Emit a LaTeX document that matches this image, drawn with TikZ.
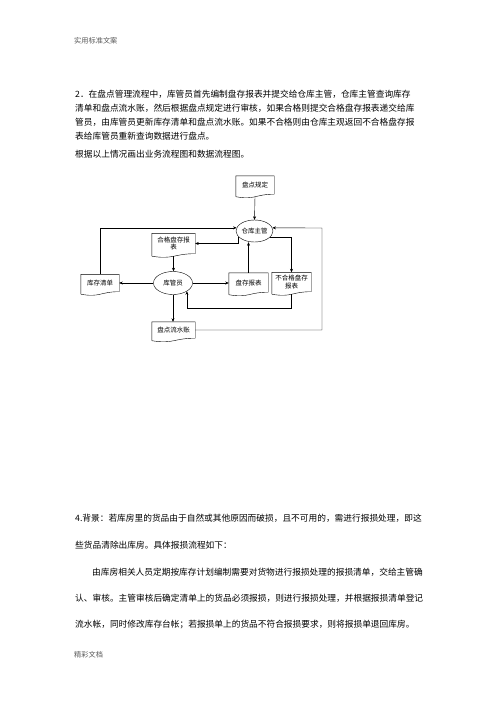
\documentclass[tikz,border=0pt]{standalone}
\usepackage{fontspec}
\setmainfont{Noto Sans CJK SC}
\usepackage{tikz}
\usetikzlibrary{arrows.meta,shapes,calc}

% outline of a document box (wavy bottom) round node #1
\newcommand{\docline}[1]{%
\draw ([yshift=-2.5pt]#1.south west)--(#1.north west)--(#1.north east)--(#1.south east)
 .. controls (#1.south) and ([yshift=-6pt]#1.south) .. ([yshift=-2.5pt]#1.south west);}

\tikzset{
bodytext/.style={anchor=west,inner sep=0pt,font=\fontsize{8.7}{10}\selectfont},
pagemark/.style={anchor=west,inner sep=0pt,text=black!65,font=\fontsize{7.2}{8}\selectfont},
docbox/.style={minimum width=#1,minimum height=18pt,inner sep=1pt,align=center,
  font=\fontsize{6.5}{7.5}\selectfont},
roleell/.style={ellipse,draw,minimum width=#1,minimum height=22pt,inner sep=0pt,
  font=\fontsize{6.5}{7.5}\selectfont},
flow/.style={-{Stealth[length=3.5pt,width=3pt]},line width=0.4pt}
}

\begin{document}
\begin{tikzpicture}[x=1pt,y=-1pt,line width=0.4pt]
\useasboundingbox (0,0) rectangle (496,702);
\node[pagemark](head) at (74,41) {实用标准文案};
\node[bodytext](t1) at (75,94) {2．在盘点管理流程中，库管员首先编制盘存报表并提交给仓库主管，仓库主管查询库存};
\node[bodytext](t2) at (75,108) {清单和盘点流水账，然后根据盘点规定进行审核，如果合格则提交合格盘存报表递交给库};
\node[bodytext](t3) at (75,122) {管员，由库管员更新库存清单和盘点流水账。如果不合格则由仓库主观返回不合格盘存报};
\node[bodytext](t4) at (75,136) {表给库管员重新查询数据进行盘点。};
\node[bodytext](t5) at (75,154) {根据以上情况画出业务流程图和数据流程图。};

% flow chart
\node[docbox=38pt](gd) at (255,185) {盘点规定};
\node[roleell=37pt](zg) at (254.5,231) {仓库主管};
\node[docbox=43pt,minimum height=20pt](hg) at (173.5,243.5) {合格盘存报\\表};
\node[docbox=38pt,minimum height=17pt](kc) at (100,283) {库存清单};
\node[roleell=39pt,minimum height=23pt](kg) at (173,283) {库管员};
\node[docbox=39pt,minimum height=19pt](pc) at (248.5,282.5) {盘存报表};
\node[docbox=39pt,minimum height=19pt](bh) at (291.5,282) {不合格盘存\\报表};
\node[docbox=43pt,minimum height=16pt](ls) at (173.5,330) {盘点流水账};
\coordinate (rt) at (322,228);
\docline{gd}\docline{hg}\docline{kc}\docline{pc}\docline{bh}\docline{ls}

\draw[flow]([yshift=-2.5pt]gd.south)--(zg.north);
\draw[flow](kc.north)|-(zg.170);
\draw[flow](zg.200)|-(hg.east);
\draw[flow]([yshift=-2.5pt]hg.south)--(hg.south|-kg.north);
\draw[flow](kg.west)--(kg.west-|kc.east);
\draw[flow,line width=0.9pt](kg.east)--(kg.east-|pc.west);
\draw[flow](pc.north)--(pc.north|-zg.south);
\draw[flow](zg.-22)-|(bh.north);
\draw[flow]([yshift=-2.5pt]bh.south)--++(0,14)-|(kg.south east);
\draw[flow](kg.south)--(kg.south|-ls.north);
\draw[flow](ls.east)-|(rt)--(zg.10);

\node[bodytext](s1) at (75,518) {4.背景：若库房里的货品由于自然或其他原因而破损，且不可用的，需进行报损处理，即这};
\node[bodytext](s2) at (75,545) {些货品清除出库房。具体报损流程如下：};
\node[bodytext](s3) at (92,572) {由库房相关人员定期按库存计划编制需要对货物进行报损处理的报损清单，交给主管确};
\node[bodytext](s4) at (75,598) {认、审核。主管审核后确定清单上的货品必须报损，则进行报损处理，并根据报损清单登记};
\node[bodytext](s5) at (75,625) {流水帐，同时修改库存台帐；若报损单上的货品不符合报损要求，则将报损单退回库房。};
\node[pagemark](foot) at (74,655) {精彩文档};
\end{tikzpicture}
\end{document}
